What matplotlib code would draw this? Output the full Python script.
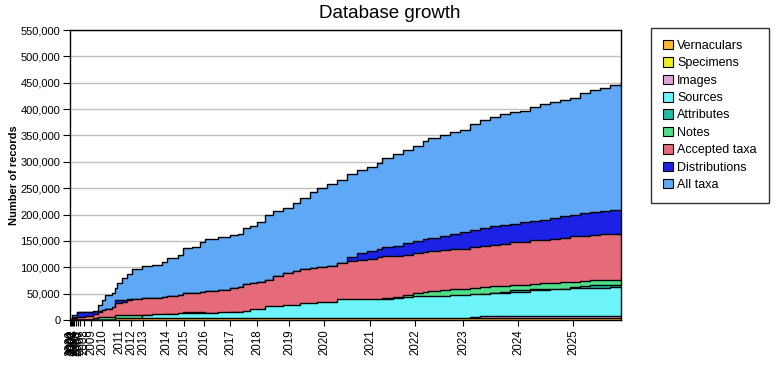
import matplotlib
matplotlib.use("Agg")
import matplotlib.pyplot as plt
import numpy as np
from matplotlib.patches import Patch
from matplotlib.ticker import FuncFormatter

plt.rcParams["font.family"] = ["Liberation Sans", "DejaVu Sans"]

# release number (x) at each checkpoint, cumulative counts in thousands
release = [0, 2, 7, 15, 23, 28, 32, 35, 42, 45,
           47, 52, 57, 62, 72, 82, 92, 97, 108, 113,
           122, 130, 135, 148, 160, 168, 173, 180, 187, 195,
           203, 213, 223, 230, 240, 247, 257, 267, 277, 287,
           297, 307, 312, 323, 333, 343, 353, 358, 370, 380,
           390, 400, 410, 420, 430, 440, 450, 460, 470, 480,
           490, 500, 510, 520, 530, 540, 551]

all_taxa = [0, 10, 15, 15, 16, 29, 38, 47, 51, 60,
            71, 80, 88, 96, 102, 105, 110, 118, 124, 137,
            139, 147, 153, 158, 161, 164, 175, 178, 185, 200,
            206, 213, 221, 232, 242, 251, 257, 266, 276, 285,
            290, 298, 308, 314, 323, 330, 339, 346, 350, 356,
            361, 371, 380, 385, 390, 394, 397, 404, 409, 413,
            417, 421, 431, 436, 440, 445, 451]

distributions = [0, 5, 15, 15, 17, 18, 19, 20, 22, 37,
                 37, 38, 39, 39, 41, 42, 44, 45, 47, 51,
                 52, 54, 55, 57, 60, 63, 69, 71, 72, 76,
                 84, 89, 93, 97, 99, 100, 102, 108, 120, 128,
                 130, 135, 138, 141, 146, 149, 153, 155, 159, 164,
                 167, 171, 174, 178, 180, 183, 185, 187, 190, 194,
                 197, 200, 202, 204, 206, 208, 209]

accepted_taxa = [0, 3, 6, 8, 11, 16, 19, 20, 25, 32,
                 33, 35, 37, 39, 41, 42, 44, 45, 47, 51,
                 52, 54, 55, 57, 60, 63, 69, 71, 72, 76,
                 84, 89, 93, 97, 99, 100, 102, 108, 112, 114,
                 115, 119, 121, 122, 124, 127, 129, 130, 132, 134,
                 135, 138, 140, 143, 145, 147, 148, 151, 152, 154,
                 156, 159, 160, 162, 163, 164, 165]

notes = [0, 0, 0, 0, 3, 6, 6, 6, 6, 10,
         10, 10, 10, 10, 9, 10, 11, 11, 12, 16,
         16, 16, 14, 14, 15, 15, 16, 17, 18, 22,
         24, 25, 26, 28, 30, 31, 33, 34, 35, 36,
         37, 38, 41, 43, 48, 51, 53, 55, 56, 58,
         59, 61, 62, 64, 65, 66, 67, 69, 70, 71,
         72, 73, 74, 75, 76, 76, 77]

attributes = [0, 0, 0, 0, 0, 0, 0, 0, 0, 0,
              0, 0, 0, 0, 4, 5, 6, 6, 7, 7,
              8, 8, 9, 9, 10, 10, 11, 12, 12, 14,
              15, 16, 17, 18, 20, 21, 22, 24, 25, 27,
              28, 30, 31, 33, 35, 37, 39, 40, 42, 44,
              46, 48, 50, 52, 54, 56, 57, 58, 59, 57,
              58, 62, 65, 66, 67, 67, 68]

sources = [0, 0, 0, 0, 0, 0, 0, 0, 0, 0,
           0, 0, 0, 0, 10, 11, 12, 12, 13, 13,
           14, 14, 14, 15, 16, 16, 17, 20, 20, 27,
           27, 28, 29, 33, 33, 34, 35, 39, 39, 39,
           39, 39, 39, 42, 44, 45, 45, 45, 45, 47,
           48, 49, 50, 51, 52, 53, 54, 56, 57, 58,
           59, 60, 60, 61, 61, 62, 62]

images = [0, 0, 0, 0, 0, 0, 0, 0, 0, 0,
          0, 0, 0, 0, 0, 0, 0, 0, 0, 0,
          0, 0, 0, 0, 0, 0, 0, 0, 0, 0,
          0, 0, 0, 0, 0, 0, 0, 0, 0, 0,
          0, 0, 0, 0, 0, 0, 0, 0, 0, 0,
          0, 6, 8, 8, 8, 8, 8, 8, 8, 8,
          8, 8, 8, 8, 8, 8, 9]

specimens = [0, 0, 0, 0, 0, 0, 0, 0, 0, 0,
             0, 0, 0, 0, 0, 0, 0, 0, 0, 0,
             0, 1, 1, 1, 1, 1, 1, 1, 1, 1,
             1, 1, 1, 1, 1, 1, 1, 1, 1, 1,
             1, 1, 1, 1, 1, 1, 1, 1, 1, 1,
             1, 2, 2, 2, 2, 2, 2, 2, 2, 2,
             2, 2, 2, 2, 2, 2, 2]

vernaculars = [0, 0, 0, 0, 0, 0, 0, 0, 0, 3,
               3, 3, 3, 3, 3, 3, 3, 3, 3, 3,
               3, 3, 3, 3, 3, 3, 3, 3, 3, 3,
               3, 3, 3, 3, 3, 3, 3, 3, 3, 3,
               3, 4, 4, 4, 4, 4, 4, 4, 4, 4,
               4, 4, 4, 4, 4, 4, 4, 4, 4, 4,
               4, 4, 4, 4, 4, 4, 5]

years = [str(y) for y in range(2000, 2026)]
year_release = [0, 1, 2, 3, 4, 6, 8, 10, 14, 21, 32, 49, 61, 73, 96, 114,
                134, 160, 187, 219, 254, 300, 345, 393, 448, 503]

# legend order (top to bottom); drawn in reverse so "All taxa" sits at the back
series = [
    ("Vernaculars", vernaculars, "#FFB830"),
    ("Specimens", specimens, "#EEEE22"),
    ("Images", images, "#E2A2DC"),
    ("Sources", sources, "#6CF4F8"),
    ("Attributes", attributes, "#22BBA4"),
    ("Notes", notes, "#52DE88"),
    ("Accepted taxa", accepted_taxa, "#E56B7A"),
    ("Distributions", distributions, "#1B22E6"),
    ("All taxa", all_taxa, "#5EA8F6"),
]

fig = plt.figure(figsize=(7.8, 3.8), dpi=100)
ax = fig.add_axes([70 / 780, 60 / 380, 551 / 780, 290 / 380])

for i, (name, vals, color) in enumerate(reversed(series)):
    y = np.array(vals) * 1000
    ax.fill_between(release, y, step="post", color=color, lw=0, zorder=2 + i)
    ax.step(release, y, where="post", color="black", lw=1.0, zorder=2.5 + i)

ax.set_xlim(0, 551)
ax.set_ylim(0, 550000)
ax.set_yticks(np.arange(0, 550001, 50000))
ax.yaxis.set_major_formatter(FuncFormatter(lambda v, p: f"{int(v):,}"))
ax.set_xticks(year_release)
ax.set_xticklabels(years, rotation=90, fontsize=8.3)
ax.tick_params(axis="y", labelsize=8, length=5, direction="out", pad=2)
ax.tick_params(axis="x", length=4, direction="out", pad=3)
ax.yaxis.grid(True, color="#C0C0C0", lw=1)
ax.set_axisbelow(True)
for s in ax.spines.values():
    s.set_linewidth(1.0)
    s.set_zorder(20)

ax.set_ylabel("Number of records", fontsize=8, fontweight="bold")
ax.yaxis.set_label_coords(-0.092, 0.5)
fig.text(0.5, 1 - 14 / 380, "Database growth", ha="center", va="center", fontsize=13.5)

handles = [Patch(facecolor=c, edgecolor="black", lw=0.8, label=n) for n, _, c in series]
leg = fig.legend(handles=handles, loc="upper left", bbox_to_anchor=(651 / 780, 1 - 28 / 380),
                 frameon=True, fancybox=False, edgecolor="black", fontsize=9,
                 handlelength=0.8, handleheight=0.8, handletextpad=0.35,
                 labelspacing=0.42, borderpad=0.95, borderaxespad=0)
leg.get_frame().set_linewidth(1.0)

fig.savefig("out.png", dpi=100, facecolor="white")
